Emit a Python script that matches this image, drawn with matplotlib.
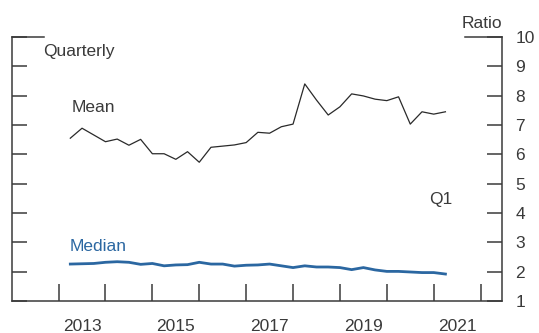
import numpy as np
import matplotlib
matplotlib.use("Agg")
import matplotlib.pyplot as plt
from matplotlib.lines import Line2D

plt.rcParams["font.family"] = ["Liberation Sans", "DejaVu Sans"]

# ── data: quarterly, 2013 Q1 .. 2021 Q1 ──────────────────────────────────────
quarters = np.arange(2013.25, 2021.26, 0.25)

mean_ratio = [6.55, 6.89, 6.66, 6.43, 6.52, 6.31, 6.51, 6.02, 6.02, 5.83,
              6.09, 5.73, 6.24, 6.28, 6.32, 6.40, 6.75, 6.72, 6.94, 7.03,
              8.40, 7.85, 7.34, 7.62, 8.06, 7.99, 7.88, 7.83, 7.96, 7.03,
              7.45, 7.37, 7.45]

median_ratio = [2.26, 2.27, 2.28, 2.32, 2.34, 2.32, 2.25, 2.28, 2.20, 2.23,
                2.24, 2.32, 2.26, 2.26, 2.19, 2.22, 2.23, 2.26, 2.20, 2.14,
                2.20, 2.16, 2.16, 2.14, 2.07, 2.14, 2.06, 2.01, 2.01, 1.99,
                1.97, 1.97, 1.92]

year_ticks  = list(range(2013, 2023))
year_labels = ["2013", "", "2015", "", "2017", "", "2019", "", "2021"]
ratio_ticks = list(range(1, 11))

TXT   = "#3a3a3a"
BLUE  = "#2b67a1"
FS    = 12.5

fig = plt.figure(figsize=(5.39, 3.33), dpi=100)
ax = fig.add_axes([0.0217, 0.096, 0.9091, 0.793])

ax.plot(quarters, mean_ratio, color="#2a2a2a", linewidth=0.9)
ax.plot(quarters, median_ratio, color=BLUE, linewidth=2.0)

ax.set_xlim(2012.0, 2022.45)
ax.set_ylim(1, 10)

# x: ticks at year boundaries, labels centred mid-year
ax.set_xticks(year_ticks)
ax.set_xticklabels([])
ax.set_xticks([y + 0.5 for y in year_ticks[:-1]], minor=True)
ax.set_xticklabels(year_labels, minor=True, fontsize=FS, color=TXT)
ax.tick_params(axis="x", which="major", direction="in", length=12,
               width=1.1, color=TXT)
ax.tick_params(axis="x", which="minor", length=0, pad=13)

# y: inward ticks both sides, labels on the right
ax.set_yticks(ratio_ticks)
ax.tick_params(axis="y", direction="in", length=11, width=1.1, color=TXT,
               left=True, right=True, labelleft=False, labelright=True,
               labelsize=FS, labelcolor=TXT, pad=10)

for side in ["left", "right", "bottom"]:
    ax.spines[side].set_color(TXT)
    ax.spines[side].set_linewidth(1.1)
ax.spines["top"].set_visible(False)

# corner segments on the top edge
ax.add_line(Line2D([0, 0.066], [1, 1], transform=ax.transAxes,
                   color=TXT, linewidth=1.1, clip_on=False))
ax.add_line(Line2D([0.925, 1], [1, 1], transform=ax.transAxes,
                   color=TXT, linewidth=1.1, clip_on=False))

ax.text(2012.67, 9.49, "Quarterly", fontsize=FS, color=TXT, va="center")
ax.text(2013.28, 7.58, "Mean", fontsize=FS, color=TXT, va="center")
ax.text(2013.23, 2.85, "Median", fontsize=FS, color=BLUE, va="center")
ax.text(2020.9, 4.47, "Q1", fontsize=FS, color=TXT, va="center")
fig.text(0.857, 0.93, "Ratio", fontsize=FS, color=TXT, va="center")

fig.savefig("out.png", dpi=100)
